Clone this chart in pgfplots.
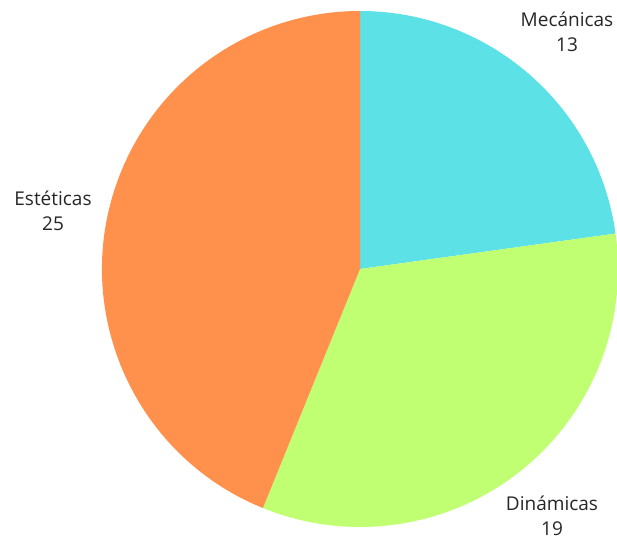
\documentclass[border=0pt]{standalone}
\usepackage{pgfplots}
\usepackage{pgfplotstable}
\pgfplotsset{compat=1.18}
\usepackage{fontspec}
\setmainfont{Open Sans}
\definecolor{cMec}{HTML}{5CE1E6}
\definecolor{cDin}{HTML}{C1FF72}
\definecolor{cEst}{HTML}{FF914D}
\pgfplotstableread{
label value
Mecánicas 13
Dinámicas 19
Estéticas 25
}\piedata
\begin{document}
\begin{tikzpicture}
\pgfplotstablegetelem{0}{value}\of\piedata \let\va\pgfplotsretval
\pgfplotstablegetelem{1}{value}\of\piedata \let\vb\pgfplotsretval
\pgfplotstablegetelem{2}{value}\of\piedata \let\vc\pgfplotsretval
\pgfplotstablegetelem{0}{label}\of\piedata \let\la\pgfplotsretval
\pgfplotstablegetelem{1}{label}\of\piedata \let\lb\pgfplotsretval
\pgfplotstablegetelem{2}{label}\of\piedata \let\lc\pgfplotsretval
\pgfmathsetmacro\total{\va+\vb+\vc}
\pgfmathsetmacro\aA{90-360*\va/\total}
\pgfmathsetmacro\aB{\aA-360*\vb/\total}
\pgfmathsetmacro\aC{\aB-360*\vc/\total}
\begin{axis}[x=1pt,y=1pt,xmin=0,xmax=617,ymin=0,ymax=541,hide axis,clip=false,scale only axis]
\coordinate (bl) at (axis cs:0,0);
\coordinate (tr) at (axis cs:617,541);
\fill[cMec] (axis cs:360,272) -- ++(90:258pt) arc[start angle=90,end angle=\aA,radius=258pt] -- cycle;
\fill[cDin] (axis cs:360,272) -- ++(\aA:258pt) arc[start angle=\aA,end angle=\aB,radius=258pt] -- cycle;
\fill[cEst] (axis cs:360,272) -- ++(\aB:258pt) arc[start angle=\aB,end angle=\aC,radius=258pt] -- cycle;
\node[align=center,font=\fontsize{19}{25}\selectfont,text=black!85] at (axis cs:567,509) {\la\\\va};
\node[align=center,font=\fontsize{19}{25}\selectfont,text=black!85] at (axis cs:552,25) {\lb\\\vb};
\node[align=center,font=\fontsize{19}{25}\selectfont,text=black!85] at (axis cs:53,330) {\lc\\\vc};
\end{axis}
\pgfresetboundingbox
\useasboundingbox (bl) rectangle (tr);
\end{tikzpicture}
\end{document}
